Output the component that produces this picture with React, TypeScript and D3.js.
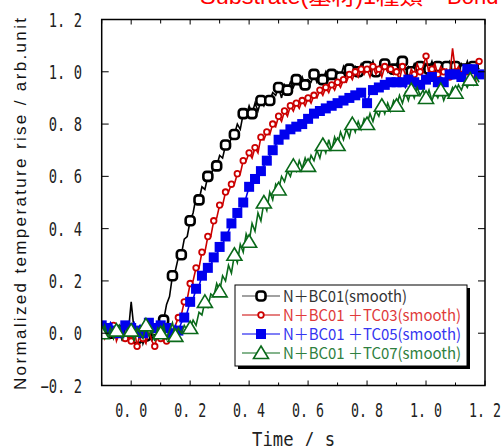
import React from 'react';
import * as d3 from 'd3';

// Sampling grid of the measurement (s)
const T_START = -0.1;
const T_STEP = 0.01;

const xTicks = [0.0, 0.2, 0.4, 0.6, 0.8, 1.0, 1.2];
const xMinorTicks = [-0.1, 0.1, 0.3, 0.5, 0.7, 0.9, 1.1];
const yTicks = [-0.2, 0.0, 0.2, 0.4, 0.6, 0.8, 1.0, 1.2];
const xTickLabels = ['0. 0', '0. 2', '0. 4', '0. 6', '0. 8', '1. 0', '1. 2'];
const yTickLabels = ['−0. 2', '0. 0', '0. 2', '0. 4', '0. 6', '0. 8', '1. 0', '1. 2'];

const seriesNames = [
  'N＋BC01(smooth)',
  'N＋BC01 ＋TC03(smooth)',
  'N＋BC01 ＋TC05(smooth)',
  'N＋BC01 ＋TC07(smooth)',
];

const bc01 = [
  0.02, -0.01, 0.03, 0.00, -0.02, 0.02, 0.01, -0.03, 0.02, 0.00,
  0.12, 0.01, -0.02, 0.03, -0.04, -0.01, 0.02, -0.03, 0.01, 0.00,
  0.03, 0.05, 0.11, 0.14, 0.22, 0.24, 0.29, 0.30, 0.36, 0.37,
  0.43, 0.46, 0.52, 0.51, 0.56, 0.55, 0.60, 0.60, 0.64, 0.64,
  0.68, 0.67, 0.72, 0.71, 0.75, 0.76, 0.80, 0.78, 0.84, 0.83,
  0.87, 0.84, 0.88, 0.85, 0.89, 0.87, 0.90, 0.89, 0.92, 0.91,
  0.94, 0.90, 0.95, 0.93, 0.96, 0.94, 0.97, 0.95, 0.98, 0.95,
  0.97, 0.96, 0.99, 0.96, 0.98, 0.97, 1.00, 0.97, 0.99, 0.98,
  1.00, 0.98, 1.02, 0.99, 1.01, 0.99, 1.02, 1.00, 1.03, 1.00,
  1.02, 1.01, 1.04, 1.00, 1.02, 1.01, 1.03, 1.00, 1.02, 1.01,
  1.03, 1.00, 1.04, 1.01, 1.02, 1.00, 1.03, 1.01, 1.02, 1.00,
  1.03, 1.01, 1.04, 1.00, 1.02, 1.01, 1.03, 1.02, 1.04, 1.01,
  1.02, 1.00, 1.03, 1.01, 1.04, 1.00, 1.02, 1.03, 1.01,
];

const tc03 = [
  0.01, -0.02, 0.02, -0.01, 0.03, -0.03, 0.00, 0.02, -0.02, 0.01,
  -0.03, 0.02, -0.05, 0.00, -0.02, -0.04, 0.01, -0.03, -0.05, 0.00,
  -0.02, 0.02, -0.03, 0.01, -0.01, 0.03, 0.06, 0.07, 0.12, 0.13,
  0.19, 0.20, 0.25, 0.25, 0.31, 0.31, 0.37, 0.37, 0.43, 0.44,
  0.49, 0.49, 0.54, 0.54, 0.57, 0.57, 0.61, 0.61, 0.66, 0.66,
  0.69, 0.67, 0.71, 0.69, 0.75, 0.74, 0.77, 0.76, 0.80, 0.79,
  0.83, 0.81, 0.85, 0.83, 0.87, 0.85, 0.88, 0.86, 0.89, 0.87,
  0.90, 0.88, 0.91, 0.90, 0.93, 0.91, 0.94, 0.92, 0.95, 0.93,
  0.96, 0.94, 0.97, 0.96, 0.99, 0.97, 1.00, 0.98, 1.01, 0.99,
  1.01, 0.98, 1.02, 0.99, 1.01, 0.98, 1.02, 1.00, 1.01, 0.99,
  1.00, 0.97, 1.02, 0.99, 0.97, 1.01, 0.99, 1.03, 1.00, 1.02,
  1.06, 0.99, 1.01, 1.03, 0.99, 1.02, 1.00, 1.01, 0.98, 1.09,
  1.00, 1.02, 0.99, 1.01, 1.00, 0.98, 0.96, 1.02, 1.04,
];

const tc05 = [
  0.03, 0.01, 0.02, 0.04, 0.01, 0.03, 0.00, 0.02, 0.03, 0.01,
  0.02, 0.04, 0.01, 0.03, 0.00, 0.02, 0.04, 0.01, 0.02, 0.00,
  0.03, 0.01, 0.02, -0.01, 0.00, 0.03, 0.01, 0.04, 0.06, 0.08,
  0.12, 0.13, 0.17, 0.18, 0.22, 0.22, 0.25, 0.26, 0.29, 0.30,
  0.33, 0.34, 0.37, 0.39, 0.42, 0.43, 0.46, 0.47, 0.50, 0.52,
  0.56, 0.57, 0.59, 0.60, 0.62, 0.64, 0.66, 0.68, 0.70, 0.72,
  0.74, 0.75, 0.76, 0.76, 0.78, 0.78, 0.79, 0.80, 0.80, 0.81,
  0.82, 0.82, 0.84, 0.83, 0.85, 0.84, 0.86, 0.85, 0.87, 0.86,
  0.88, 0.87, 0.89, 0.88, 0.90, 0.89, 0.91, 0.90, 0.92, 0.91,
  0.88, 0.92, 0.93, 0.92, 0.94, 0.93, 0.95, 0.94, 0.96, 0.95,
  0.96, 0.95, 0.96, 0.94, 0.97, 0.95, 0.96, 0.97, 0.95, 0.97,
  0.97, 0.96, 0.98, 0.97, 0.96, 0.98, 0.96, 0.97, 0.99, 0.98,
  0.99, 1.00, 0.98, 1.02, 1.01, 0.99, 1.01, 1.00, 0.99,
];

const tc07 = [
  0.00, 0.03, -0.01, 0.02, -0.02, 0.01, 0.03, -0.02, 0.00, 0.02,
  0.01, -0.03, 0.02, 0.00, -0.02, 0.03, -0.01, 0.01, -0.03, 0.02,
  0.00, 0.03, -0.02, 0.01, 0.04, -0.01, 0.02, 0.00, 0.03, 0.01,
  0.02, 0.05, 0.03, 0.08, 0.07, 0.12, 0.10, 0.15, 0.14, 0.19,
  0.16, 0.22, 0.20, 0.26, 0.23, 0.30, 0.27, 0.34, 0.31, 0.38,
  0.35, 0.42, 0.39, 0.46, 0.43, 0.50, 0.47, 0.54, 0.51, 0.57,
  0.55, 0.60, 0.58, 0.62, 0.60, 0.64, 0.62, 0.66, 0.63, 0.67,
  0.64, 0.68, 0.66, 0.70, 0.67, 0.72, 0.69, 0.74, 0.70, 0.75,
  0.72, 0.77, 0.74, 0.78, 0.75, 0.80, 0.77, 0.81, 0.78, 0.82,
  0.80, 0.84, 0.81, 0.85, 0.83, 0.87, 0.84, 0.88, 0.85, 0.89,
  0.87, 0.91, 0.88, 0.92, 0.89, 0.93, 0.90, 0.94, 0.91, 0.93,
  0.90, 0.93, 0.89, 0.92, 0.90, 0.93, 0.89, 0.92, 0.91, 0.94,
  0.92, 0.95, 0.93, 0.96, 0.94, 0.97, 0.95, 0.98, 0.96,
];

const seriesValues = [bc01, tc03, tc05, tc07];
const lineColors = ['#000000', '#cc0000', '#0000ee', '#0a6a1a'];
const textColors = ['#333333', '#e03a3a', '#3535f0', '#2e8040'];
const markerKinds = ['squareOpen', 'circleOpen', 'squareFilled', 'triangleOpen'];
const markerEvery = [3, 2, 2, 5];

const W = 504, H = 446;
const L = 101.7, R = 485, T = 19.5, B = 385.5;

function Marker({ kind, cx, cy, color }: { kind: string; cx: number; cy: number; color: string }) {
  if (kind === 'squareOpen')
    return <rect x={cx - 4.5} y={cy - 4.5} width={9} height={9} rx={3} fill="#fff" stroke={color} strokeWidth={2.6} />;
  if (kind === 'circleOpen')
    return <circle cx={cx} cy={cy} r={2.8} fill="#fff" stroke={color} strokeWidth={1.8} />;
  if (kind === 'squareFilled')
    return <rect x={cx - 5} y={cy - 5} width={10} height={10} fill={color} />;
  return (
    <path d={`M${cx},${cy - 7}L${cx + 7.5},${cy + 5.5}L${cx - 7.5},${cy + 5.5}Z`} fill="#fff" stroke={color} strokeWidth={1.6} />
  );
}

export default function App() {
  const x = d3.scaleLinear().domain([-0.1, 1.2]).range([L, R]);
  const y = d3.scaleLinear().domain([-0.2, 1.2]).range([B, T]);
  const tAt = (i: number) => T_START + i * T_STEP;
  const line = d3
    .line<number>()
    .x((_, i) => x(tAt(i)))
    .y((d) => y(d));

  const legendX = 235, legendY = 285, legendW = 232, legendH = 81;
  const rowY = [296, 315, 334, 353];
  const legendLens = [124, 178, 178, 178];

  return (
    <svg width={W} height={H} style={{ position: 'absolute', left: 0, top: 0, background: '#fff' }}>
      <defs>
        <clipPath id="plot">
          <rect x={L} y={T} width={R - L} height={B - T} />
        </clipPath>
      </defs>
      <rect x={0} y={0} width={W} height={H} fill="#fff" />
      {/* title (partly outside the frame) */}
      <text x={200} y={4} fill="#ff0000" fontFamily="Liberation Sans, Noto Sans CJK JP" fontSize={22} textLength={223} lengthAdjust="spacingAndGlyphs">
        Substrate(基材)1種類
      </text>
      <text x={447} y={4} fill="#ff0000" fontFamily="Liberation Sans" fontSize={22}>
        Bond
      </text>

      {/* series */}
      <g clipPath="url(#plot)">
        {seriesValues.map((vals, s) => (
          <g key={s}>
            <path d={line(vals) || ''} fill="none" stroke={lineColors[s]} strokeWidth={1.6} />
            {vals.map((v, i) =>
              i % markerEvery[s] === 0 ? (
                <Marker key={i} kind={markerKinds[s]} cx={x(tAt(i))} cy={y(v)} color={lineColors[s]} />
              ) : null
            )}
          </g>
        ))}
      </g>

      {/* frame */}
      <rect x={L} y={T} width={R - L} height={B - T} fill="none" stroke="#000" strokeWidth={1.5} />
      {/* x ticks */}
      {xTicks.map((t) => (
        <g key={'xt' + t}>
          <line x1={x(t)} x2={x(t)} y1={B} y2={B - 5} stroke="#000" strokeWidth={1} />
          <line x1={x(t)} x2={x(t)} y1={T} y2={T + 5} stroke="#000" strokeWidth={1} />
        </g>
      ))}
      {xMinorTicks.map((t) => (
        <g key={'xm' + t}>
          <line x1={x(t)} x2={x(t)} y1={B} y2={B - 3} stroke="#000" strokeWidth={1} />
          <line x1={x(t)} x2={x(t)} y1={T} y2={T + 4} stroke="#000" strokeWidth={1} />
        </g>
      ))}
      {yTicks.map((v) => (
        <g key={'yt' + v}>
          <line x1={L} x2={L + 7} y1={y(v)} y2={y(v)} stroke="#000" strokeWidth={1} />
          <line x1={R} x2={R - 7} y1={y(v)} y2={y(v)} stroke="#000" strokeWidth={1} />
        </g>
      ))}
      {/* tick labels */}
      {xTicks.map((t, i) => (
        <text key={'xl' + t} x={x(t)} y={417} textAnchor="middle" fill="#222" fontFamily="DejaVu Sans Mono" fontSize={19}
          textLength={32} lengthAdjust="spacingAndGlyphs">
          {xTickLabels[i]}
        </text>
      ))}
      {yTicks.map((v, i) => (
        <text key={'yl' + v} x={82} y={y(v) + 7} textAnchor="end" fill="#222" fontFamily="DejaVu Sans Mono" fontSize={19}
          textLength={yTickLabels[i].length * 8.3} lengthAdjust="spacingAndGlyphs">
          {yTickLabels[i]}
        </text>
      ))}
      {/* axis titles */}
      <text x={252} y={446} fill="#222" fontFamily="DejaVu Sans Mono" fontSize={20} textLength={83} lengthAdjust="spacingAndGlyphs">
        Time / s
      </text>
      <text transform="translate(25.5,390) rotate(-90)" x={0} y={0} fill="#111" fontFamily="Liberation Sans" fontSize={17}
        textLength={372} lengthAdjust="spacing">
        Normalized temperature rise / arb.unit
      </text>

      {/* legend */}
      <rect x={legendX + 3} y={legendY + 3} width={legendW} height={legendH} fill="#000" />
      <rect x={legendX} y={legendY} width={legendW} height={legendH} fill="#fff" stroke="#000" strokeWidth={1} />
      {seriesNames.map((name, s) => (
        <g key={name}>
          <line x1={242} x2={280} y1={rowY[s]} y2={rowY[s]} stroke={lineColors[s] === '#000000' ? '#444' : lineColors[s]} strokeWidth={1.2} />
          <Marker kind={markerKinds[s]} cx={261} cy={rowY[s]} color={lineColors[s]} />
          <text x={283} y={rowY[s] + 5.5} fill={textColors[s]} fontFamily="Noto Sans CJK JP" fontSize={15.5}
            textLength={legendLens[s]} lengthAdjust="spacingAndGlyphs">
            {name}
          </text>
        </g>
      ))}
    </svg>
  );
}
